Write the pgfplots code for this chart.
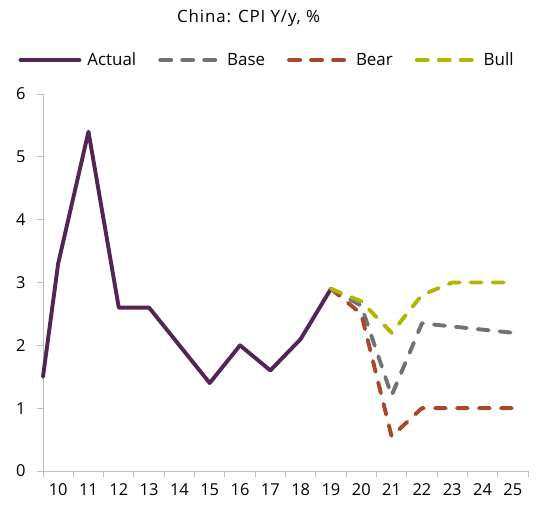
\documentclass[border=0pt]{standalone}
\usepackage{fontspec}
\setmainfont{Open Sans}
\usepackage{pgfplots}
\pgfplotsset{compat=1.18}

\definecolor{actualc}{RGB}{82,37,84}
\definecolor{basec}{RGB}{110,115,118}
\definecolor{bearc}{RGB}{168,72,42}
\definecolor{bullc}{RGB}{178,182,0}
\definecolor{axisgray}{RGB}{190,190,190}

\begin{document}
\begin{tikzpicture}[x=1bp,y=1bp]
\useasboundingbox (-43,-38) rectangle (504,471);
\begin{axis}[
  at={(0,0)}, anchor=south west,
  scale only axis,
  width=485bp, height=377bp,
  font=\fontsize{16.5}{19}\selectfont,
  /pgf/number format/assume math mode=true,
  xmin=9.5, xmax=25.5,
  ymin=0, ymax=6,
  axis lines=left,
  axis line style={axisgray, line width=0.9bp, -},
  xtick={10,...,25},
  xticklabels={10,11,12,13,14,15,16,17,18,19,20,21,22,23,24,25},
  minor xtick={9.5,10.5,...,25.5},
  ytick={0,...,6},
  major x tick style={draw=none},
  minor x tick style={axisgray, line width=0.9bp},
  y tick style={axisgray, line width=0.9bp},
  tick align=outside,
  major tick length=6bp,
  minor tick length=6bp,
  xticklabel style={yshift=-3bp},
  yticklabel style={xshift=-8bp},
  clip=false,
  legend columns=4,
  legend style={at={(rel axis cs:0.462,1.09)}, anchor=center, draw=none, fill=none,
    font=\fontsize{17}{20}\selectfont,
    /tikz/every odd column/.style={column sep=4bp},
    /tikz/every even column/.style={column sep=20bp}},
  legend image code/.code={\draw[#1] (0bp,0bp) -- (59bp,0bp);},
  every axis plot/.append style={line width=3.9bp, line join=round},
]
\addplot[actualc, line cap=round] coordinates {
  (9.5,1.5) (10,3.3) (11,5.4) (12,2.6) (13,2.6) (14,2.0) (15,1.4)
  (16,2.0) (17,1.6) (18,2.1) (19,2.9)
};
\addlegendentry{Actual}
\addplot[basec, line cap=round, dash pattern=on 11bp off 11bp] coordinates {
  (19,2.9) (20,2.63) (21,1.2) (22,2.35) (23,2.3) (24,2.25) (25,2.2)
};
\addlegendentry{Base}
\addplot[bearc, line cap=round, dash pattern=on 11bp off 11bp] coordinates {
  (19,2.9) (20,2.5) (21,0.55) (22,1.0) (23,1.0) (24,1.0) (25,1.0)
};
\addlegendentry{Bear}
\addplot[bullc, line cap=round, dash pattern=on 11bp off 11bp] coordinates {
  (19,2.9) (20,2.7) (21,2.2) (22,2.8) (23,3.0) (24,3.0) (25,3.0)
};
\addlegendentry{Bull}
\node[font=\fontsize{17}{20}\selectfont\addfontfeatures{LetterSpace=5}] at (rel axis cs:0.424,1.2) {China: CPI Y/y, \%};
\end{axis}
\end{tikzpicture}
\end{document}
